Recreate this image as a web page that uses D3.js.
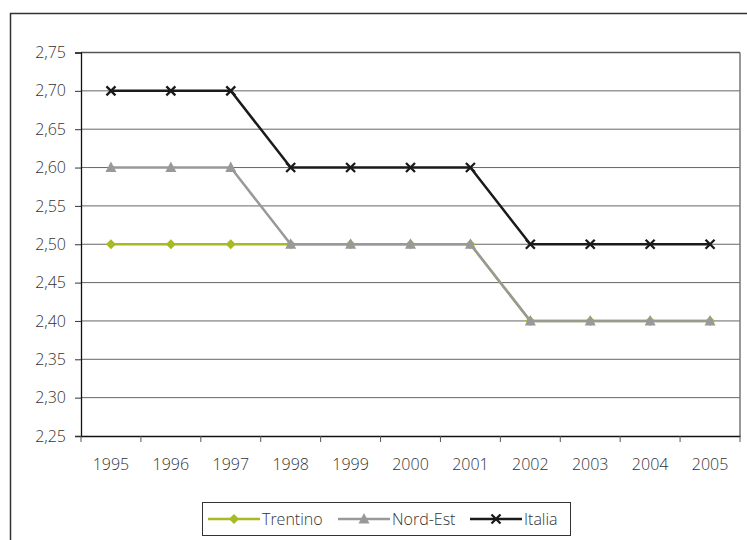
<!DOCTYPE html>
<html>
<head>
<meta charset="utf-8">
<script src="https://cdn.jsdelivr.net/npm/d3@7"></script>
<style>
  body { margin: 0; background: #fff; }
  text { font-family: "Open Sans", "Noto Sans", sans-serif; font-weight: 300; fill: #333; }
</style>
</head>
<body>
<div id="chart"></div>
<script>
// data
const years = ["1995","1996","1997","1998","1999","2000","2001","2002","2003","2004","2005"];
const trentino = [2.50,2.50,2.50,2.50,2.50,2.50,2.50,2.40,2.40,2.40,2.40];
const nordEst  = [2.60,2.60,2.60,2.50,2.50,2.50,2.50,2.40,2.40,2.40,2.40];
const italia   = [2.70,2.70,2.70,2.60,2.60,2.60,2.60,2.50,2.50,2.50,2.50];
const yTicks = [2.25,2.30,2.35,2.40,2.45,2.50,2.55,2.60,2.65,2.70,2.75];

const series = [
  {name: "Trentino", values: trentino, color: "#a9b923", marker: "diamond"},
  {name: "Nord-Est", values: nordEst, color: "#999999", marker: "triangle"},
  {name: "Italia", values: italia, color: "#1a1a1a", marker: "cross"}
];

const W = 747, H = 540;
const margin = {top: 52.5, right: 7, bottom: 104, left: 81};
const width = W - margin.left - margin.right,
      height = H - margin.top - margin.bottom;

const svg = d3.select("#chart").append("svg")
    .attr("width", W).attr("height", H);

// outer frame
svg.append("rect")
    .attr("x", 10.5).attr("y", 13.5)
    .attr("width", W).attr("height", H)
    .attr("fill", "none").attr("stroke", "#333").attr("stroke-width", 1.5);

const g = svg.append("g")
    .attr("transform", `translate(${margin.left},${margin.top})`);

const x = d3.scaleBand().domain(years).range([0, width]);
const y = d3.scaleLinear().domain([2.25, 2.75]).range([height, 0]);

// gridlines
g.selectAll(".grid").data(yTicks.slice(1))
  .join("line")
    .attr("x1", 0).attr("x2", width)
    .attr("y1", d => y(d)).attr("y2", d => y(d))
    .attr("stroke", "#666").attr("stroke-width", 1);

// right and top border of plot
g.append("line")
    .attr("x1", width).attr("x2", width).attr("y1", 0).attr("y2", height)
    .attr("stroke", "#777").attr("stroke-width", 1.5);
g.append("line")
    .attr("x1", 0).attr("x2", width).attr("y1", 0).attr("y2", 0)
    .attr("stroke", "#555").attr("stroke-width", 1.5);

// y axis
const yAxis = g.append("g")
    .call(d3.axisLeft(y).tickValues(yTicks).tickSize(6).tickPadding(9)
      .tickFormat(d => d3.format(".2f")(d).replace(".", ",")));
yAxis.select(".domain").attr("stroke", "#111").attr("stroke-width", 1.3);
yAxis.selectAll(".tick line").attr("stroke", "#333");
yAxis.selectAll("text").style("font-size", "16px");

// x axis, ticks at category boundaries
const xAxis = g.append("g")
    .attr("transform", `translate(0,${height})`)
    .call(d3.axisBottom(x).tickSize(0).tickPadding(23).tickSizeOuter(0));
xAxis.select(".domain").attr("stroke", "#111").attr("stroke-width", 1.3);
xAxis.selectAll("text").style("font-size", "16px");
g.append("g").selectAll("line")
  .data(years.map((d, i) => i).concat([years.length]))
  .join("line")
    .attr("x1", i => i * x.step()).attr("x2", i => i * x.step())
    .attr("y1", height).attr("y2", height + 6)
    .attr("stroke", "#555").attr("stroke-width", 1);

const line = d3.line()
    .x((d, i) => x(years[i]) + x.bandwidth() / 2)
    .y(d => y(d));

function drawMarker(sel, type, color) {
  if (type === "diamond") {
    sel.append("path").attr("d", "M0,-5L5,0L0,5L-5,0Z").attr("fill", color);
  } else if (type === "triangle") {
    sel.append("path").attr("d", "M0,-6L5.5,4.5L-5.5,4.5Z").attr("fill", color);
  } else {
    sel.append("path").attr("d", "M-4.5,-4.5L4.5,4.5M4.5,-4.5L-4.5,4.5")
      .attr("stroke", color).attr("stroke-width", 2.3).attr("fill", "none");
  }
}

series.forEach(s => {
  g.append("path")
      .datum(s.values)
      .attr("fill", "none")
      .attr("stroke", s.color)
      .attr("stroke-width", 2.5)
      .attr("d", line);
  g.append("g").selectAll("g")
    .data(s.values)
    .join("g")
      .attr("transform", (d, i) => `translate(${x(years[i]) + x.bandwidth() / 2},${y(d)})`)
      .each(function() { drawMarker(d3.select(this), s.marker, s.color); });
});

// legend
const legend = svg.append("g").attr("transform", "translate(202.5,502.5)");
legend.append("rect")
    .attr("width", 368).attr("height", 33)
    .attr("fill", "#fff").attr("stroke", "#333").attr("stroke-width", 1);
const legX = [5.5, 135.5, 267.5];
series.forEach((s, i) => {
  const lg = legend.append("g").attr("transform", `translate(${legX[i]},16.5)`);
  lg.append("line").attr("x1", 0).attr("x2", 52).attr("y1", 0).attr("y2", 0)
    .attr("stroke", s.color).attr("stroke-width", 2.5);
  drawMarker(lg.append("g").attr("transform", "translate(26,0)"), s.marker, s.color);
  lg.append("text").attr("x", 54).attr("y", 0).attr("dy", "0.35em")
    .style("font-size", "16px").text(s.name);
});
</script>
</body>
</html>
